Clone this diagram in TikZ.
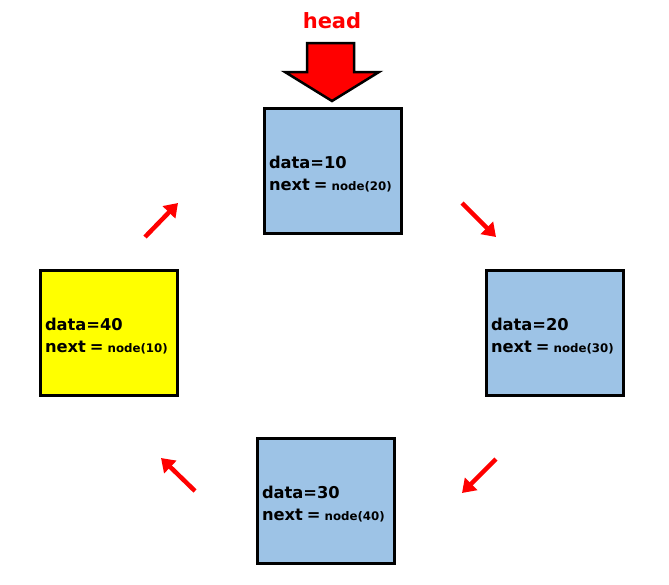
\documentclass[tikz,border=0pt]{standalone}
\usepackage{fontspec}
\setmainfont{DejaVu Sans}
\usetikzlibrary{arrows.meta}
\definecolor{boxblue}{HTML}{9DC3E6}
\definecolor{hot}{HTML}{FF0000}
\definecolor{lemon}{HTML}{FFFF00}
\tikzset{
  listbox/.style={draw=black, line width=2.5pt, fill=boxblue, minimum width=137pt, minimum height=125pt,
    text width=128pt, inner xsep=4.5pt, align=left, font=\bfseries\fontsize{16.3}{22}\selectfont},
  link/.style={draw=hot, line width=4.5pt, -{Triangle[length=13pt,width=17pt]}},
}
\newcommand{\nd}[1]{\rule{0pt}{19pt}data=#1}
\newcommand{\nx}[1]{next\hspace{4pt}=\hspace{4pt}{\fontsize{11.8}{22}\selectfont node(#1)}}
\begin{document}
\begin{tikzpicture}[x=1pt,y=-1pt]
\useasboundingbox (0,0) rectangle (669,584);
\node[listbox] (n10) at (333,171) {\nd{10}\\\nx{20}};
\node[listbox] (n20) at (555,333) {\nd{20}\\\nx{30}};
\node[listbox] (n30) at (326,501) {\nd{30}\\\nx{40}};
\node[listbox, fill=lemon] (n40) at (109,333) {\nd{40}\\\nx{10}};
% head label and block arrow
\node[text=hot, font=\bfseries\fontsize{21}{24}\selectfont] (headlbl) at (332,21) {head};
\draw[line width=2.5pt, fill=hot, line join=miter] (307,43) -- (354,43) -- (354,72) -- (379,72) -- (332,101) -- (285,72) -- (307,72) -- cycle;
% small red arrows
\coordinate (a1s) at (145,237); \coordinate (a1e) at (178,203);
\coordinate (a2s) at (462,203); \coordinate (a2e) at (496,237);
\coordinate (a3s) at (496,459); \coordinate (a3e) at (462,493);
\coordinate (a4s) at (195,491); \coordinate (a4e) at (161,458);
\draw[link] (a1s) -- (a1e);
\draw[link] (a2s) -- (a2e);
\draw[link] (a3s) -- (a3e);
\draw[link] (a4s) -- (a4e);
\end{tikzpicture}
\end{document}
